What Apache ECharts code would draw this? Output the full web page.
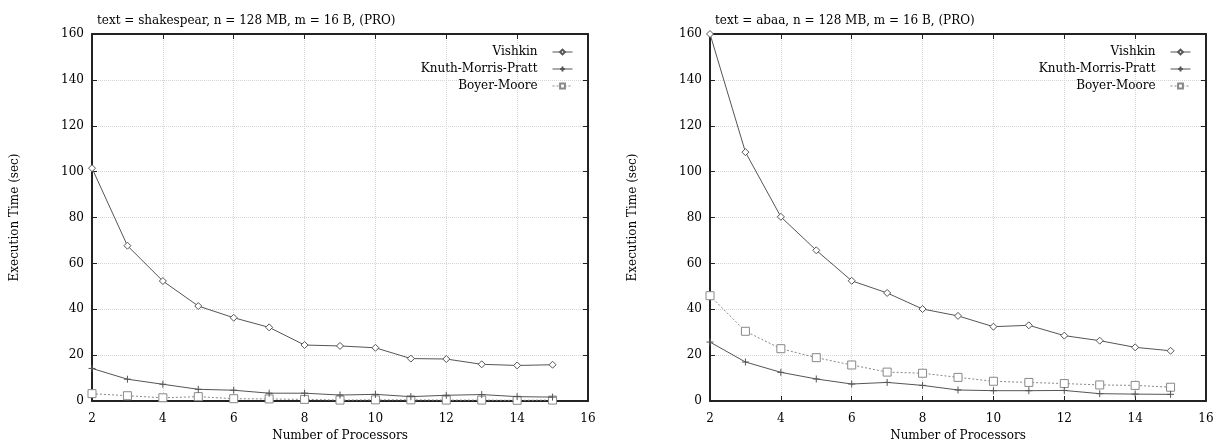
<!DOCTYPE html>
<html><head><meta charset="utf-8">
<script src="https://cdn.jsdelivr.net/npm/echarts@6/dist/echarts.min.js"></script>
<style>html,body{margin:0;padding:0;background:#fff}#c{width:1217px;height:440px}</style>
</head><body><div id="c"></div>
<script>
const processors = [2,3,4,5,6,7,8,9,10,11,12,13,14,15];
const seriesNames = ['Vishkin','Knuth-Morris-Pratt','Boyer-Moore'];
const titleLeft = 'text = shakespear, n = 128 MB, m = 16 B, (PRO)';
const titleRight = 'text = abaa, n = 128 MB, m = 16 B, (PRO)';
const xAxisName = 'Number of Processors';
const yAxisName = 'Execution Time (sec)';
// left panel (shakespear)
const vishkinLeft = [101.5,67.7,52.3,41.4,36.3,32.1,24.4,24.0,23.2,18.5,18.3,16.0,15.5,15.8];
const kmpLeft     = [14.2,9.5,7.3,5.1,4.7,3.4,3.4,2.6,2.9,1.9,2.5,2.8,1.9,1.7];
const bmLeft      = [3.2,2.3,1.4,1.9,1.0,0.9,0.7,0.4,0.5,0.5,0.4,0.4,0.3,0.4];
// right panel (abaa)
const vishkinRight = [160,108.5,80.3,65.7,52.4,47.1,40.1,37.1,32.4,33.0,28.5,26.3,23.4,21.9];
const kmpRight     = [25.7,17.0,12.5,9.6,7.4,8.1,6.8,4.8,4.5,4.5,4.6,3.2,3.0,2.9];
const bmRight      = [45.9,30.4,22.8,18.9,15.7,12.6,12.1,10.3,8.6,8.1,7.6,7.0,6.8,6.0];

const FONT = 'DejaVu Serif';
const grids = [
  {left:92, right:629, top:34, bottom:39, containLabel:false, outerBoundsMode:'none'},
  {left:710, right:11, top:34, bottom:39, containLabel:false, outerBoundsMode:'none'}
];
const styles = [
  {symbol:'diamond', symbolSize:7, color:'#555', lineType:'solid', fill:'#fff'},
  {symbol:'path://M0,5L10,5M5,0L5,10', symbolSize:7, color:'#555', lineType:'solid', fill:'none'},
  {symbol:'rect', symbolSize:8, color:'#888', lineType:[2,2], fill:'#fff'}
];

const option = {
  animation:false,
  backgroundColor:'#fff',
  textStyle:{fontFamily:FONT},
  title:[
    {text:titleLeft, left:97, top:15, padding:0, textStyle:{fontFamily:FONT,fontSize:12,fontWeight:'normal',color:'#000'}},
    {text:titleRight, left:715, top:15, padding:0, textStyle:{fontFamily:FONT,fontSize:12,fontWeight:'normal',color:'#000'}}
  ],
  grid:grids,
  xAxis:[], yAxis:[], series:[], legend:[]
};

const panels = [[vishkinLeft,kmpLeft,bmLeft],[vishkinRight,kmpRight,bmRight]];
const legendRight = [644, 26];
panels.forEach((vals, g) => {
  const base = option.xAxis.length;
  option.xAxis.push({
    gridIndex:g, type:'value', min:2, max:16, interval:2, position:'bottom',
    name:xAxisName, nameLocation:'middle', nameGap:28,
    nameTextStyle:{fontFamily:FONT,fontSize:12,color:'#000'},
    axisLine:{onZero:false, lineStyle:{color:'#222',width:2}},
    axisTick:{inside:true,length:5,lineStyle:{color:'#222'}},
    axisLabel:{fontFamily:FONT,fontSize:12,color:'#000',margin:12},
    splitLine:{show:true,lineStyle:{color:'#d4d4d4',type:[1,1],width:1}}
  });
  option.xAxis.push({
    gridIndex:g, type:'value', min:2, max:16, interval:2, position:'top',
    axisLine:{onZero:false, lineStyle:{color:'#222',width:2}},
    axisTick:{inside:true,length:5,lineStyle:{color:'#222'}},
    axisLabel:{show:false}, splitLine:{show:false}
  });
  option.yAxis.push({
    gridIndex:g, type:'value', min:0, max:160, interval:20, position:'left',
    name:yAxisName, nameLocation:'middle', nameGap:71,
    nameTextStyle:{fontFamily:FONT,fontSize:12,color:'#000'},
    axisLine:{show:true,onZero:false, lineStyle:{color:'#222',width:2}},
    axisTick:{show:true,inside:true,length:5,lineStyle:{color:'#222'}},
    axisLabel:{fontFamily:FONT,fontSize:12,color:'#000',margin:8},
    splitLine:{show:true,lineStyle:{color:'#d4d4d4',type:[1,1],width:1}}
  });
  option.yAxis.push({
    gridIndex:g, type:'value', min:0, max:160, interval:20, position:'right',
    axisLine:{show:true,onZero:false, lineStyle:{color:'#222',width:2}},
    axisTick:{show:true,inside:true,length:5,lineStyle:{color:'#222'}},
    axisLabel:{show:false}, splitLine:{show:false}
  });
  vals.forEach((arr, i) => {
    const s = styles[i];
    option.series.push({
      name:seriesNames[i], type:'line', xAxisIndex:base, yAxisIndex:base,
      data:processors.map((p,k)=>[p,arr[k]]),
      symbol:s.symbol, symbolSize:s.symbolSize, showAllSymbol:true,
      lineStyle:{color:s.color,width:1,type:s.lineType},
      itemStyle:{color:s.fill,borderColor:s.color,borderWidth:1},
      emphasis:{disabled:true}, z:3-i
    });
    option.legend.push({
      data:[seriesNames[i]], orient:'horizontal', align:'right',
      right:legendRight[g], top:46 + i*17, padding:0,
      itemWidth:20, itemHeight:6, selectedMode:false,
      lineStyle:{width:1},
      textStyle:{fontFamily:FONT,fontSize:12,color:'#000',padding:[0,10,0,0]}
    });
  });
});
const chart = echarts.init(document.getElementById('c'), null, {renderer:'canvas'});
chart.setOption(option);
</script></body></html>
